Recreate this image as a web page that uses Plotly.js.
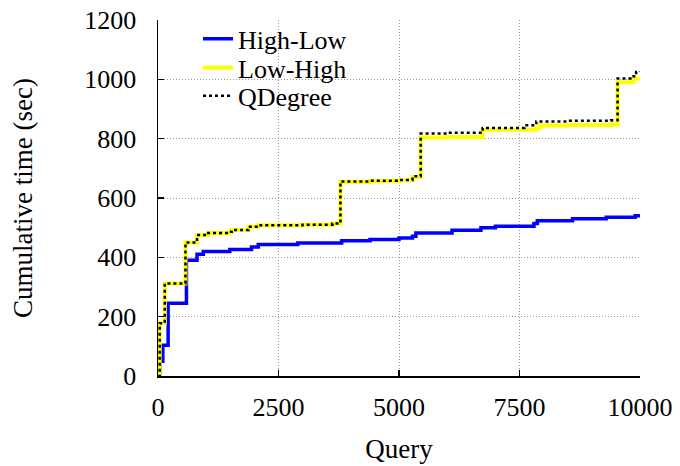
<!DOCTYPE html>
<html>
<head>
<meta charset="utf-8">
<script src="https://cdn.plot.ly/plotly-3.0.1.min.js"></script>
<style>html,body{margin:0;padding:0;background:#fff;}</style>
</head>
<body>
<div id="chart" style="width:680px;height:466px;"></div>
<script>
// Data (cumulative time in seconds vs query number)
const seriesNames = ["High-Low", "Low-High", "QDegree"];

const highLowX = [0, 40, 100, 210, 590, 810, 940, 1490, 1940, 2080, 2900, 3810, 4400, 5000, 5280, 5350, 6100, 6700, 7000, 7800, 7870, 8600, 9300, 9900, 10000];
const highLowY = [0, 50, 104, 245, 390, 410, 420, 426, 435, 443, 448, 456, 460, 465, 471, 482, 491, 500, 505, 514, 523, 530, 535, 540, 541];

const lowHighX = [0, 35, 140, 570, 810, 1040, 1490, 1530, 1875, 2080, 3000, 3620, 3785, 4400, 5000, 5280, 5450, 6000, 6735, 7850, 7920, 8500, 9400, 9535, 9860, 10000];
const lowHighY = [0, 178, 312, 450, 475, 482, 486, 492, 503, 508, 510, 514, 654, 657, 660, 671, 804, 806, 830, 836, 844, 846, 848, 990, 1002, 1004];

const qDegreeX = [0, 35, 140, 570, 810, 1040, 1490, 1530, 1875, 2080, 3000, 3620, 3785, 4400, 5000, 5280, 5450, 6000, 6735, 7600, 7850, 8500, 9400, 9535, 9800, 9920, 10000];
const qDegreeY = [0, 178, 312, 450, 475, 482, 486, 492, 503, 508, 510, 514, 656, 658, 661, 673, 817, 820, 836, 845, 858, 860, 862, 1003, 1010, 1025, 1026];

const xTicks = [0, 2500, 5000, 7500, 10000];
const yTicks = [0, 200, 400, 600, 800, 1000, 1200];

const font = "Liberation Serif";

const traces = [
  {x: highLowX, y: highLowY, name: seriesNames[0], mode: "lines", legend: "legend",
   line: {shape: "hv", color: "#0000ff", width: 3.5}},
  {x: lowHighX, y: lowHighY, name: seriesNames[1], mode: "lines", legend: "legend2",
   line: {shape: "hv", color: "#ffff00", width: 4}},
  {x: qDegreeX, y: qDegreeY, name: seriesNames[2], mode: "lines", legend: "legend3",
   line: {shape: "hv", color: "#000000", width: 2.5, dash: "3px,3px"}}
];

const axisCommon = {
  showline: true, linecolor: "#000", linewidth: 1.5, mirror: false,
  ticks: "inside", ticklen: 6, tickwidth: 1.5, tickcolor: "#000",
  showgrid: true, gridcolor: "#999999", gridwidth: 1, griddash: "1px,2px",
  zeroline: false, tickfont: {family: font, size: 26, color: "#000"}
};

function legendAt(y) {
  return {x: 0.083, y: y, xanchor: "left", yanchor: "middle",
          bgcolor: "rgba(0,0,0,0)", borderwidth: 0,
          font: {family: font, size: 26, color: "#000"}};
}

const layout = {
  width: 680, height: 466,
  margin: {l: 158, r: 40, t: 20, b: 90},
  paper_bgcolor: "#fff", plot_bgcolor: "#fff",
  font: {family: font, color: "#000"},
  showlegend: true,
  legend: legendAt(0.947),
  legend2: legendAt(0.866),
  legend3: legendAt(0.787),
  xaxis: Object.assign({}, axisCommon, {
    range: [0, 10000], tickvals: xTicks, ticktext: xTicks.map(String),
    ticklabelstandoff: 7,
    title: {text: "Query", font: {family: font, size: 27, color: "#000"}, standoff: 18}
  }),
  yaxis: Object.assign({}, axisCommon, {
    range: [0, 1200], tickvals: yTicks, ticktext: yTicks.map(String),
    ticklabelstandoff: 15,
    title: {text: "Cumulative time (sec)", font: {family: font, size: 27, color: "#000"}, standoff: 44}
  })
};

Plotly.newPlot("chart", traces, layout, {displayModeBar: false, staticPlot: true});
</script>
</body>
</html>
